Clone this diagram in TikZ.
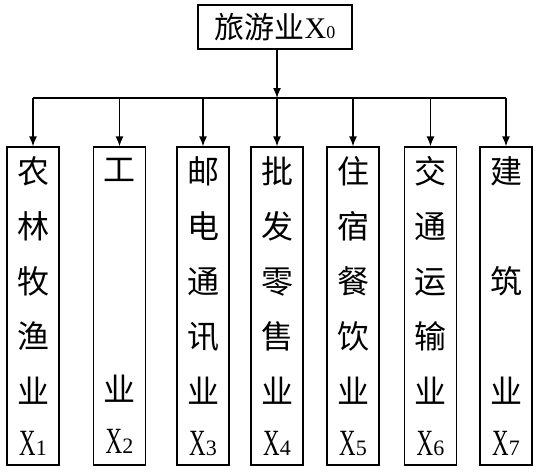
\documentclass[tikz,border=0pt]{standalone}
\usepackage{fontspec}
\setmainfont{Liberation Serif}
\newfontfamily\cjk{Noto Sans CJK SC}
\usetikzlibrary{arrows,arrows.meta,positioning,calc}
\tikzstyle{sector}=[draw,line width=1.3pt,minimum width=52pt,minimum height=318pt,inner sep=0pt,align=center,font=\cjk\fontsize{32}{55}\selectfont]
\tikzstyle{total}=[draw,line width=1.3pt,minimum width=154pt,minimum height=44pt,inner sep=0pt,font=\cjk\fontsize{30}{30}\selectfont]
\tikzstyle{feed}=[line width=1.3pt,-{Latex[length=10pt,width=8pt]}]
\newcommand{\xlab}[1]{{\rmfamily\fontsize{37}{37}\selectfont\scalebox{0.62}[1]{X}\fontsize{22}{22}\selectfont#1}}

\begin{document}
\begin{tikzpicture}[x=1pt,y=1pt]
    \useasboundingbox (0,0) rectangle (540,-474);
    \node [total] (tour) at (275,-27) {旅游业{\rmfamily\fontsize{30}{30}\selectfont X\fontsize{18}{18}\selectfont 0}};
    \coordinate (bus) at (277,-98);
    \node [sector] (s1) at (33,-306) {农\\林\\牧\\渔\\业\\[-3pt]\xlab{1}};
    \node [sector] (s2) at (119.5,-306) {工\\\mbox{}\\\mbox{}\\\mbox{}\\业\\[-3pt]\xlab{2}};
    \node [sector] (s3) at (203,-306) {邮\\电\\通\\讯\\业\\[-3pt]\xlab{3}};
    \node [sector] (s4) at (277,-306) {批\\发\\零\\售\\业\\[-3pt]\xlab{4}};
    \node [sector] (s5) at (353,-306) {住\\宿\\餐\\饮\\业\\[-3pt]\xlab{5}};
    \node [sector] (s6) at (430.5,-306) {交\\通\\运\\输\\业\\[-3pt]\xlab{6}};
    \node [sector] (s7) at (506,-306) {建\\\mbox{}\\筑\\\mbox{}\\业\\[-3pt]\xlab{7}};
    % bus line
    \draw [feed] (tour.south -| bus) -- (bus);
    \draw [line width=1.3pt] (s1.north |- bus) -- (s7.north |- bus);
    \draw [feed] (s1.north |- bus) -- (s1.north);
    \draw [feed] (s2.north |- bus) -- (s2.north);
    \draw [feed] (s3.north |- bus) -- (s3.north);
    \draw [feed] (s4.north |- bus) -- (s4.north);
    \draw [feed] (s5.north |- bus) -- (s5.north);
    \draw [feed] (s6.north |- bus) -- (s6.north);
    \draw [feed] (s7.north |- bus) -- (s7.north);
\end{tikzpicture}
\end{document}
